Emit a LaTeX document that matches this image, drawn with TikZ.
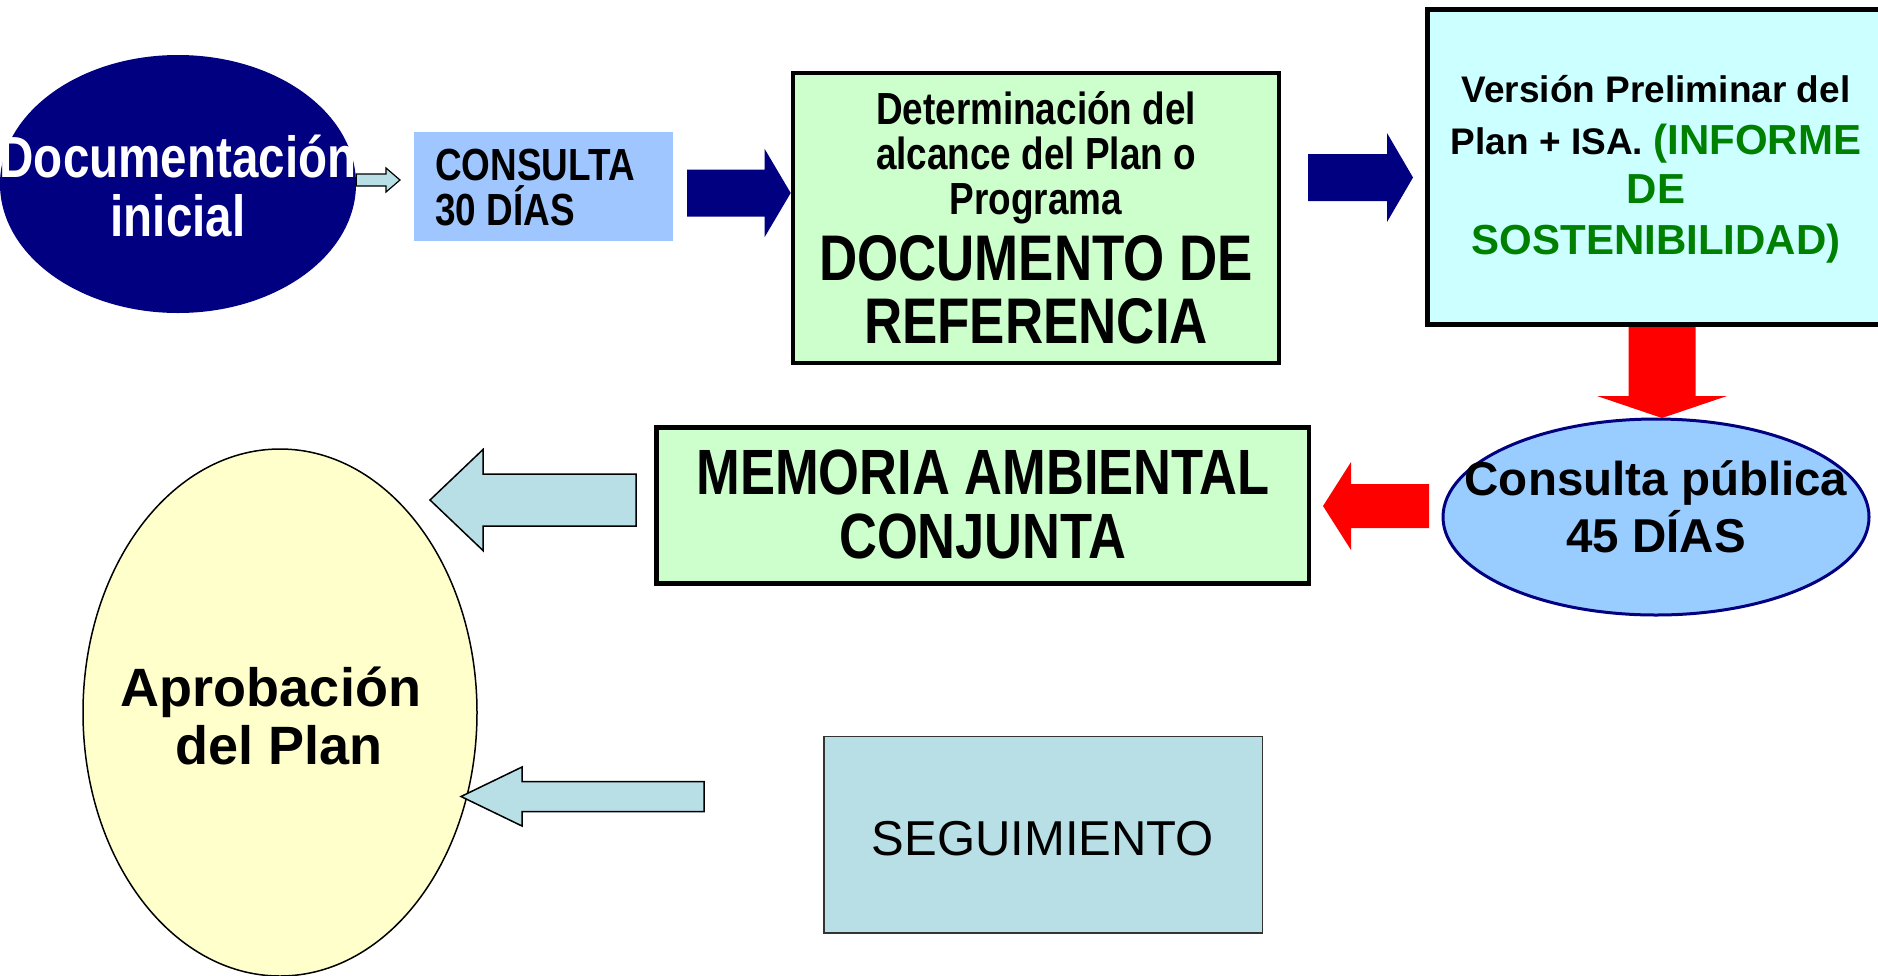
\documentclass[tikz,border=0pt]{standalone}
\usepackage{fontspec}
\setmainfont{Liberation Sans}
\newfontfamily\narrowfont[FakeStretch=0.82]{Liberation Sans}
\usetikzlibrary{shapes.geometric,calc}
\definecolor{navyc}{RGB}{0,0,128}
\definecolor{conblue}{RGB}{160,198,255}
\definecolor{cpblue}{RGB}{153,204,255}
\definecolor{palegreen}{RGB}{204,255,204}
\definecolor{palecyan}{RGB}{204,255,255}
\definecolor{paleyellow}{RGB}{255,255,204}
\definecolor{ltblue}{RGB}{184,223,230}
\definecolor{textgreen}{RGB}{0,128,0}
\definecolor{redc}{RGB}{255,0,0}
\newcommand{\myfs}[1]{\fontsize{#1}{#1}\selectfont}
% block arrow: [style]{from}{to}{shaft half width}{head half width}{head length}
\newcommand{\blockarrow}[6][]{%
  \coordinate (ba-h) at ($(#3)!#6!(#2)$);
  \draw[#1] ($(#2)!#4!90:(#3)$) -- ($(ba-h)!#4!90:(#3)$) -- ($(ba-h)!#5!90:(#3)$)
    -- (#3) -- ($(ba-h)!#5!-90:(#3)$) -- ($(ba-h)!#4!-90:(#3)$) -- ($(#2)!#4!-90:(#3)$) -- cycle;}
\begin{document}
\begin{tikzpicture}[x=1pt,y=-1pt,
  box/.style={rectangle, inner sep=0pt},
  oval/.style={ellipse, inner sep=0pt},
  txt/.style={inner sep=0pt, anchor=base},
  heavy/.style={draw=black, line width=4.6pt},
  navyarrow/.style={fill=navyc, draw=none},
  redarrow/.style={fill=redc, draw=none},
  lbarrow/.style={fill=ltblue, draw=black, line width=1.5pt, line join=miter}]
\clip (0,0) rectangle (1878,975);
\fill[white] (0,0) rectangle (1878,975);

% shapes
\node[oval, fill=navyc, minimum width=356pt, minimum height=258pt] (doc) at (178,184) {};
\node[box, fill=conblue, minimum width=258.7pt, minimum height=109pt] (cons) at (543.8,186.2) {};
\node[box, fill=palegreen, heavy, minimum width=486pt, minimum height=290pt] (docref) at (1036,218) {};
\node[box, fill=palecyan, heavy, minimum width=456.4pt, minimum height=315pt] (vers) at (1655.8,167.1) {};
\node[oval, fill=cpblue, draw=navyc, line width=3pt, minimum width=426pt, minimum height=196pt] (cp) at (1656,517) {};
\node[box, fill=palegreen, heavy, minimum width=652.7pt, minimum height=155.7pt] (mem) at (982.7,505.5) {};
\node[oval, fill=paleyellow, draw=black, line width=1.5pt, minimum width=394pt, minimum height=527pt] (apr) at (280,712.5) {};
\node[box, fill=ltblue, draw=black!80, line width=1.5pt, minimum width=438.4pt, minimum height=196.4pt] (seg) at (1043.2,834.8) {};

% texts
\node[txt, text=white] (docT1) at (178,177) {\narrowfont\bfseries\myfs{58}Documentación};
\node[txt, text=white] (docT2) at (178,236) {\narrowfont\bfseries\myfs{58}inicial};

\node[txt, anchor=base west] (consT1) at (435,180) {\narrowfont\bfseries\myfs{45}CONSULTA};
\node[txt, anchor=base west] (consT2) at (435,225) {\narrowfont\bfseries\myfs{45}30 DÍAS};

\node[txt] (drT1) at (1036,124) {\narrowfont\bfseries\myfs{45}Determinación del};
\node[txt] (drT2) at (1036,169) {\narrowfont\bfseries\myfs{45}alcance del Plan o};
\node[txt] (drT3) at (1036,214) {\narrowfont\bfseries\myfs{45}Programa};
\node[txt] (drT4) at (1036,280) {\narrowfont\bfseries\myfs{64.5}DOCUMENTO DE};
\node[txt] (drT5) at (1036,343.5) {\narrowfont\bfseries\myfs{64.5}REFERENCIA};

\node[txt] (vT1) at (1656,102) {\bfseries\myfs{37}Versión Preliminar del};
\node[txt] (vT2) at (1656,154) {\bfseries\myfs{37}Plan + ISA. \textcolor{textgreen}{\myfs{42}(INFORME}};
\node[txt, text=textgreen] (vT3) at (1656,203) {\bfseries\myfs{42}DE};
\node[txt, text=textgreen] (vT4) at (1656,254.5) {\bfseries\myfs{42}SOSTENIBILIDAD)};

\node[txt] (cpT1) at (1656,495) {\bfseries\myfs{47.5}Consulta pública};
\node[txt] (cpT2) at (1656,552) {\bfseries\myfs{47.5}45 DÍAS};

\node[txt] (memT1) at (983,494.5) {\narrowfont\bfseries\myfs{64}MEMORIA AMBIENTAL};
\node[txt] (memT2) at (983,558) {\narrowfont\bfseries\myfs{64}CONJUNTA};

\node[txt] (aprT1) at (271,706.5) {\bfseries\myfs{54}Aprobación};
\node[txt] (aprT2) at (279,764) {\bfseries\myfs{54}del Plan};

\node[txt] (segT) at (1043,855) {\myfs{49}SEGUIMIENTO};

% arrow end points
\coordinate (a1s) at (doc.east |- 0,180);
\coordinate (a1e) at (400,180);
\coordinate (a2s) at (687,193);
\coordinate (a2e) at (docref.west |- a2s);
\coordinate (a3s) at (1308,177.5);
\coordinate (a3e) at (1413,177.5);
\coordinate (a4s) at (1662,327);
\coordinate (a4e) at (1662,418);
\coordinate (a5s) at (1429,506);
\coordinate (a5e) at (1323,506);
\coordinate (a6s) at (636,500);
\coordinate (a6e) at (430,500);
\coordinate (a7s) at (704,796.5);
\coordinate (a7e) at (461,796.5);

% connectors
\blockarrow[lbarrow, line width=1.2pt]{a1s}{a1e}{6pt}{12pt}{14pt}
\blockarrow[navyarrow]{a2s}{a2e}{23.5pt}{44pt}{26pt}
\blockarrow[navyarrow]{a3s}{a3e}{23.5pt}{44.5pt}{26pt}
\blockarrow[redarrow]{a4s}{a4e}{33.5pt}{65pt}{22pt}
\blockarrow[redarrow]{a5s}{a5e}{22pt}{44pt}{28pt}
\blockarrow[lbarrow]{a6s}{a6e}{26pt}{50.5pt}{53pt}
\blockarrow[lbarrow]{a7s}{a7e}{15pt}{29.5pt}{61pt}
\end{tikzpicture}
\end{document}
